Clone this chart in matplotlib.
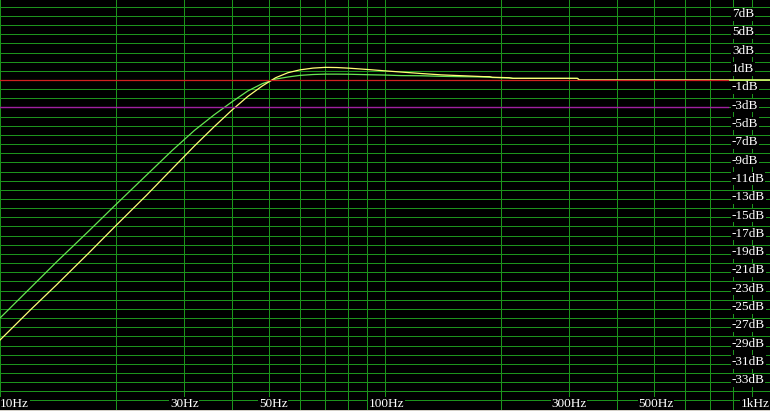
import matplotlib
matplotlib.use("Agg")
import matplotlib.pyplot as plt
import matplotlib.transforms as mtransforms
import numpy as np

# ---- data ----
freq = [10, 12, 14, 17, 20, 24, 28, 32, 36, 40, 44, 48, 52, 56, 60, 65, 70, 75,
        80, 90, 100, 110, 125, 140, 160, 180, 187, 190, 210, 215, 316, 320, 500, 778, 1000]
yellow_db = [-28.4, -25.1, -22.4, -18.9, -15.9, -12.6, -9.7, -7.2, -5.1, -3.3, -1.8, -0.65, 0.25,
             0.8, 1.1, 1.3, 1.38, 1.36, 1.3, 1.15, 1.0, 0.87, 0.7, 0.56, 0.46, 0.37, 0.36, 0.3,
             0.25, 0.18, 0.18, 0.0, 0.0, 0.0, 0.0]
green_db = [-26.0, -22.7, -19.9, -16.5, -13.6, -10.4, -7.7, -5.5, -3.8, -2.4, -1.2, -0.4, 0.1,
            0.33, 0.5, 0.6, 0.64, 0.64, 0.63, 0.58, 0.54, 0.48, 0.46, 0.4, 0.36, 0.33, 0.3, 0.27,
            0.22, 0.18, 0.18, 0.0, 0.0, 0.0, 0.0]

db_grid = list(range(-36, 9))
freq_grid = [10, 20, 30, 40, 50, 60, 70, 80, 90, 100, 200, 300, 400, 500, 600, 700,
             800, 900, 1000]
db_labels = list(range(7, -34, -2))
freq_labels = [10, 30, 50, 100, 300, 500, 1000]
freq_label_text = ["10Hz", "30Hz", "50Hz", "100Hz", "300Hz", "500Hz", "1kHz"]
ref_db = 0
marker_db = -3

# ---- figure ----
W, H = 770, 411
fig = plt.figure(figsize=(W / 100, H / 100), dpi=100, facecolor="black")
ax = fig.add_axes([0, 0, 1, 1])
ax.set_facecolor("black")
ax.set_xscale("log")
ax.set_xlim(10, 1000)
px_per_db = 9.156
ax.set_ylim(-(H - 80) / px_per_db, 80 / px_per_db)
ax.axis("off")

grid_c = "#1c941c"
for d in db_grid:
    if d == marker_db:
        continue
    ax.axhline(d, color=grid_c, lw=0.72, zorder=1)
for f in freq_grid:
    ax.axvline(f, color=grid_c, lw=0.72, zorder=1)

ax.plot(freq, green_db, color="#66e852", lw=0.9, zorder=3)
ax.plot(freq, yellow_db, color="#ffff78", lw=0.9, zorder=4)

end_frac = 728 / W
ax.axhline(ref_db, xmax=end_frac, color="#d02020", lw=0.9, zorder=5)
ax.axhline(marker_db, xmax=end_frac, color="#a020a0", lw=1.0, zorder=5)
ax.axhline(marker_db, xmin=end_frac, color=grid_c, lw=0.72, zorder=1)

font = dict(family=["Liberation Serif", "DejaVu Serif"], size=9.5, color="white")
bb = dict(facecolor="black", edgecolor="none", pad=0.4)

ty = mtransforms.blended_transform_factory(ax.transAxes, ax.transData)
for d in db_labels:
    ax.text(732 / W, d + 0.2, f"{d}dB", transform=ty, ha="left", va="center",
            bbox=bb, zorder=6, **font)

tx = mtransforms.blended_transform_factory(ax.transData, ax.transAxes)
has = ["left", "center", "center", "center", "center", "center", "right"]
offs = [1.001, 1.003, 1.025, 1.008, 1.0, 1.01, 0.997]
for f, t, ha, o in zip(freq_labels, freq_label_text, has, offs):
    ax.text(f * o, 1 - 404 / H, t, transform=tx, ha=ha, va="center",
            bbox=bb, zorder=6, **font)

# thin light border at the very bottom
fig.add_artist(plt.Rectangle((0, 0), 1, 1 / H, transform=fig.transFigure,
                             facecolor="#d4d0c8", edgecolor="none"))

fig.savefig("out.png", dpi=100, facecolor="black")
